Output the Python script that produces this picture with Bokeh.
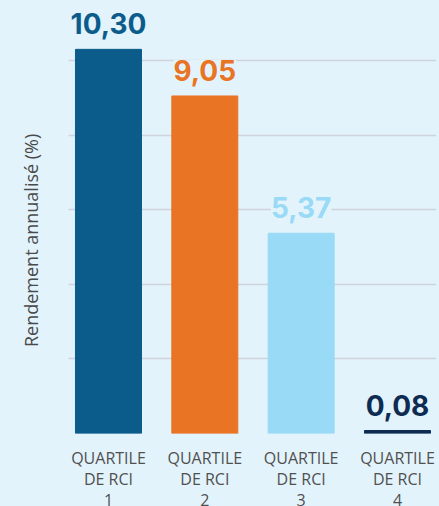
from bokeh.plotting import figure
from bokeh.models import ColumnDataSource, LabelSet, FixedTicker, Range1d
from bokeh.core.properties import value
from bokeh.embed import file_html
from bokeh.resources import INLINE

categories = ["QUARTILE\nDE RCI\n1", "QUARTILE\nDE RCI\n2", "QUARTILE\nDE RCI\n3", "QUARTILE\nDE RCI\n4"]
values = [10.30, 9.05, 5.37, 0.08]
value_labels = ["10,30", "9,05", "5,37", "0,08"]
colors = ["#0b5c8b", "#e97424", "#99daf6", "#0e2c52"]
y_ticks = [0, 2, 4, 6, 8, 10]
y_title = "Rendement annualisé (%)"

BG = "#e3f3fc"
xs = list(range(len(categories)))

src = ColumnDataSource(dict(x=xs, top=values, color=colors, label=value_labels))

p = figure(frame_width=368, frame_height=433, output_backend="svg", toolbar_location=None,
           x_range=Range1d(-0.415, 3.405), y_range=Range1d(0, 11.61),
           min_border_left=68, min_border_right=3, min_border_top=0, min_border_bottom=10,
           background_fill_color=BG, border_fill_color=BG, outline_line_color=None)

p.vbar(x="x", top="top", width=0.685, bottom=0, color="color", source=src)

labels = LabelSet(x="x", y="top", text="label", source=src, text_color="color",
                  text_font=value("Inter"), text_font_style="bold", text_font_size="28px",
                  text_align="center", text_baseline="alphabetic", y_offset=15,
                  background_fill_color=BG)
p.add_layout(labels)

# y axis: only its title is shown
p.yaxis.ticker = FixedTicker(ticks=[])
p.yaxis.axis_line_color = None
p.yaxis.major_tick_line_color = None
p.yaxis.minor_tick_line_color = None
p.yaxis.major_label_text_font_size = "0px"
p.yaxis.axis_label = y_title + "\u00a0" * 10
p.yaxis.axis_label_text_font = "Open Sans"
p.yaxis.axis_label_text_font_style = "normal"
p.yaxis.axis_label_text_font_size = "18px"
p.yaxis.axis_label_text_color = "#4a4a4a"
p.yaxis.axis_label_standoff = 26

p.ygrid.ticker = FixedTicker(ticks=y_ticks)
p.ygrid.grid_line_color = "#cfd4da"
p.ygrid.grid_line_width = 1.5
p.xgrid.visible = False

p.xaxis.ticker = FixedTicker(ticks=xs)
p.xaxis.major_label_overrides = {i: c for i, c in zip(xs, categories)}
p.xaxis.axis_line_color = None
p.xaxis.major_tick_line_color = None
p.xaxis.minor_tick_line_color = None
p.xaxis.major_tick_out = 0
p.xaxis.major_label_standoff = 13
p.xaxis.major_label_text_font = "Open Sans"
p.xaxis.major_label_text_font_size = "16px"
p.xaxis.major_label_text_color = "#505050"
p.xaxis.major_label_text_line_height = 0.97

html = file_html(p, INLINE)
html = html.replace("</head>", "<style>html,body{background:%s;overflow:hidden;}</style></head>" % BG, 1)
open("out.html", "w").write(html)
